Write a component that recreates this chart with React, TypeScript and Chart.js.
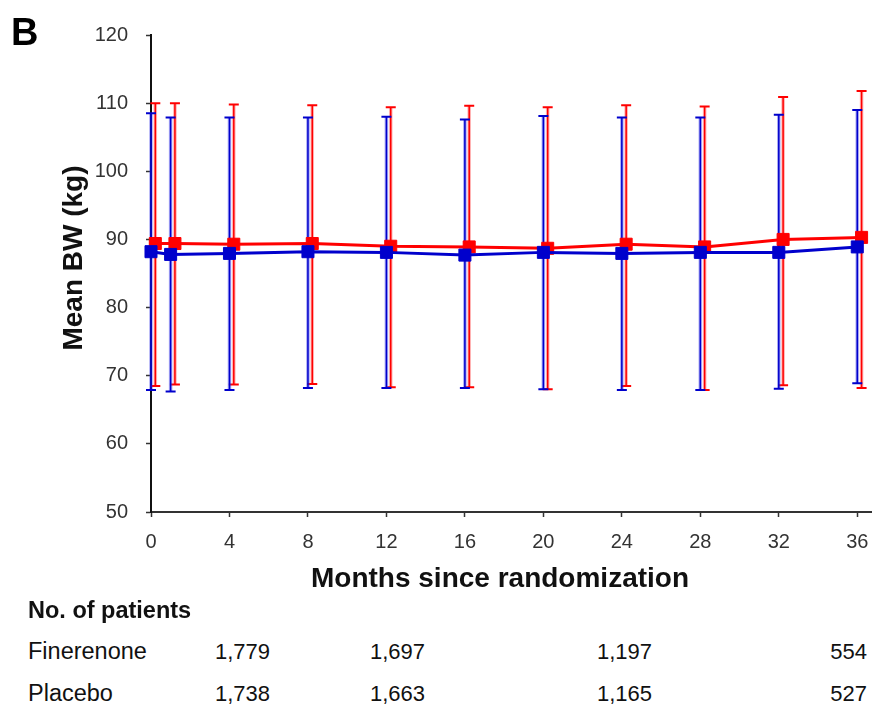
import React, { useEffect, useRef } from "react";
import { Chart, registerables } from "chart.js";

Chart.register(...registerables);

// ---- Data ----
const months = [0, 1, 4, 8, 12, 16, 20, 24, 28, 32, 36];
const xTickValues = [0, 4, 8, 12, 16, 20, 24, 28, 32, 36];

const blueMean = [88.2, 87.8, 87.95, 88.2, 88.1, 87.7, 88.1, 87.95, 88.1, 88.1, 88.9];
const blueUpper = [108.5, 107.9, 107.9, 107.9, 108.0, 107.6, 108.1, 107.9, 107.9, 108.3, 109.0];
const blueLower = [67.9, 67.7, 67.9, 68.2, 68.2, 68.2, 68.0, 67.9, 67.9, 68.1, 68.9];

const redMean = [89.4, 89.4, 89.3, 89.4, 89.0, 88.9, 88.7, 89.3, 88.9, 90.0, 90.3];
const redUpper = [110.0, 110.0, 109.8, 109.7, 109.4, 109.6, 109.4, 109.7, 109.5, 110.9, 111.8];
const redLower = [68.5, 68.7, 68.7, 68.8, 68.3, 68.3, 68.0, 68.5, 67.9, 68.6, 68.2];

const redDodge = 0.22; // red series is plotted slightly to the right

const xTitle = "Months since randomization";
const yTitle = "Mean BW (kg)";

const tableHeader = "No. of patients";
const tableRowNames = ["Finerenone", "Placebo"];
const finerenoneCounts = ["1,779", "1,697", "1,197", "554"];
const placeboCounts = ["1,738", "1,663", "1,165", "527"];

const FONT = "'Liberation Sans', Arial, Helvetica, sans-serif";

const BLUE = "rgb(0,0,204)";
const RED = "rgb(255,0,0)";

function buildPoints(xs: number[], mean: number[], lo: number[], hi: number[], dx: number) {
  return xs.map((m, i) => ({ x: m + dx, y: mean[i], yMin: lo[i], yMax: hi[i] }));
}

const errorBarPlugin = {
  id: "errorBars",
  beforeDatasetsDraw(chart: any) {
    const { ctx } = chart;
    const xs = chart.scales.x;
    const ys = chart.scales.y;
    const order = [1, 0];
    order.forEach((di) => {
      const ds: any = chart.data.datasets[di];
      if (!ds) return;
      ds.data.forEach((pt: any) => {
        const px = xs.getPixelForValue(pt.x);
        const yt = ys.getPixelForValue(pt.yMax);
        const yb = ys.getPixelForValue(pt.yMin);
        ctx.save();
        ctx.lineCap = "butt";
        ctx.strokeStyle = ds.haloColor;
        ctx.lineWidth = 3.5;
        ctx.beginPath();
        ctx.moveTo(px, yt);
        ctx.lineTo(px, yb);
        ctx.stroke();
        ctx.strokeStyle = ds.borderColor;
        ctx.lineWidth = 1.5;
        ctx.beginPath();
        ctx.moveTo(px, yt);
        ctx.lineTo(px, yb);
        ctx.stroke();
        ctx.lineWidth = 2;
        ctx.beginPath();
        ctx.moveTo(px - 5, yt);
        ctx.lineTo(px + 5, yt);
        ctx.moveTo(px - 5, yb);
        ctx.lineTo(px + 5, yb);
        ctx.stroke();
        ctx.restore();
      });
    });
  },
};

const axisTextPlugin = {
  id: "axisText",
  afterDraw(chart: any) {
    const { ctx } = chart;
    const xs = chart.scales.x;
    ctx.save();
    ctx.fillStyle = "#333";
    ctx.font = `20px ${FONT}`;
    ctx.textAlign = "center";
    ctx.textBaseline = "middle";
    xTickValues.forEach((v) => {
      ctx.fillText(String(v), xs.getPixelForValue(v), xs.top + 30);
    });
    ctx.fillStyle = "#111";
    ctx.font = `bold 28px ${FONT}`;
    ctx.fillText(xTitle, 500, 579);
    ctx.translate(74, 258);
    ctx.rotate(-Math.PI / 2);
    ctx.fillText(yTitle, 0, 0);
    ctx.restore();
  },
};

function BWChart() {
  const ref = useRef<HTMLCanvasElement | null>(null);
  useEffect(() => {
    if (!ref.current) return;
    const chart = new Chart(ref.current, {
      type: "line",
      data: {
        datasets: [
          {
            label: "Blue",
            data: buildPoints(months, blueMean, blueLower, blueUpper, 0),
            borderColor: BLUE,
            backgroundColor: BLUE,
            haloColor: "rgba(60,60,230,0.45)",
            borderWidth: 3,
            pointStyle: "rect",
            pointRadius: 8.5,
            pointBorderWidth: 1,
            pointBorderColor: BLUE,
            pointBackgroundColor: BLUE,
            clip: false,
            tension: 0,
          } as any,
          {
            label: "Red",
            data: buildPoints(months, redMean, redLower, redUpper, redDodge),
            borderColor: RED,
            backgroundColor: RED,
            haloColor: "rgba(255,80,80,0.45)",
            borderWidth: 3,
            pointStyle: "rect",
            pointRadius: 8.5,
            pointBorderWidth: 1,
            pointBorderColor: RED,
            pointBackgroundColor: RED,
            clip: false,
            tension: 0,
          } as any,
        ],
      },
      options: {
        responsive: false,
        animation: false,
        devicePixelRatio: 1,
        layout: { autoPadding: false, padding: { top: 35, right: 2, left: 0, bottom: 0 } },
        plugins: {
          legend: { display: false },
          tooltip: { enabled: false },
        },
        scales: {
          x: {
            type: "linear",
            min: 0,
            max: 36.7,
            afterBuildTicks: (s: any) => {
              s.ticks = xTickValues.map((v) => ({ value: v }));
            },
            afterFit: (s: any) => {
              s.height = 88;
              s.paddingRight = 0;
              s.paddingLeft = 0;
            },
            border: { display: true, color: "#333", width: 2 },
            grid: {
              display: true,
              drawOnChartArea: false,
              drawTicks: true,
              tickLength: 5,
              tickColor: "#333",
              tickWidth: 1.5,
            },
            ticks: { display: false },
            title: { display: false },
          },
          y: {
            type: "linear",
            min: 50,
            max: 120,
            afterFit: (s: any) => {
              s.width = 151;
            },
            border: { display: true, color: "#111", width: 2 },
            grid: {
              display: true,
              drawOnChartArea: false,
              drawTicks: true,
              tickLength: 5,
              tickColor: "#333",
              tickWidth: 1.5,
            },
            ticks: {
              stepSize: 10,
              padding: 18,
              color: "#333",
              font: { family: FONT, size: 20 },
            },
            title: { display: false },
          },
        },
      } as any,
      plugins: [errorBarPlugin, axisTextPlugin],
    });
    return () => chart.destroy();
  }, []);
  return (
    <canvas
      ref={ref}
      width={873}
      height={600}
      style={{ position: "absolute", left: 0, top: 0, width: 873, height: 600 }}
    />
  );
}

const numberRightEdges = [270, 425, 652, 867];
const rowCenters = [652, 694];

export default function App() {
  const textBase: React.CSSProperties = {
    position: "absolute",
    fontFamily: FONT,
    fontSize: 22,
    lineHeight: "22px",
    color: "#111",
    whiteSpace: "nowrap",
  };
  const labelText: React.CSSProperties = { ...textBase, fontSize: 23.5, lineHeight: "23.5px" };
  const rows = [finerenoneCounts, placeboCounts];
  return (
    <div
      style={{
        position: "absolute",
        left: 0,
        top: 0,
        width: 873,
        height: 707,
        background: "#fff",
        overflow: "hidden",
      }}
    >
      <BWChart />
      <div
        style={{
          position: "absolute",
          left: 11,
          top: 13,
          fontFamily: FONT,
          fontWeight: "bold",
          fontSize: 38,
          lineHeight: "38px",
          color: "#000",
        }}
      >
        B
      </div>
      <div style={{ ...labelText, left: 28, top: 599, fontWeight: "bold" }}>{tableHeader}</div>
      {tableRowNames.map((name, r) => (
        <React.Fragment key={name}>
          <div style={{ ...labelText, left: 28, top: rowCenters[r] - 12 }}>{name}</div>
          {rows[r].map((n, c) => (
            <div
              key={c}
              style={{
                ...textBase,
                right: 873 - numberRightEdges[c],
                top: rowCenters[r] - 11,
                textAlign: "right",
              }}
            >
              {n}
            </div>
          ))}
        </React.Fragment>
      ))}
    </div>
  );
}
